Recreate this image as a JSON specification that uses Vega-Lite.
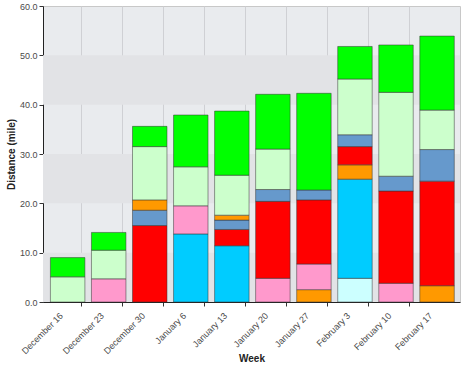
{
  "$schema": "https://vega.github.io/schema/vega-lite/v6.json",
  "width": 417,
  "height": 296,
  "autosize": {"type": "none"},
  "padding": {"left": 43, "top": 6, "right": 8, "bottom": 71},
  "background": "white",
  "config": {
    "view": {"stroke": "#c8c8c8", "fill": "#e9ebee"},
    "font": "Liberation Sans",
    "axis": {
      "labelFont": "Liberation Sans",
      "labelFontSize": 9,
      "labelColor": "#4a4a4a",
      "titleFont": "Liberation Sans",
      "titleFontSize": 10,
      "titleFontWeight": "bold",
      "titleColor": "#222222",
      "domainColor": "#222222",
      "domainWidth": 1,
      "tickColor": "#333333",
      "tickSize": 4
    }
  },
  "datasets": {
    "bands": [
      {"low": 0, "high": 10},
      {"low": 20, "high": 30},
      {"low": 40, "high": 50}
    ],
    "runs": [
      {"week": "December 16", "series": "I", "miles": 5.1},
      {"week": "December 16", "series": "J", "miles": 3.9},
      {"week": "December 23", "series": "D", "miles": 4.7},
      {"week": "December 23", "series": "I", "miles": 5.8},
      {"week": "December 23", "series": "J", "miles": 3.6},
      {"week": "December 30", "series": "F", "miles": 15.5},
      {"week": "December 30", "series": "G", "miles": 3.1},
      {"week": "December 30", "series": "H", "miles": 2.1},
      {"week": "December 30", "series": "I", "miles": 10.8},
      {"week": "December 30", "series": "J", "miles": 4.1},
      {"week": "January 6", "series": "C", "miles": 13.8},
      {"week": "January 6", "series": "D", "miles": 5.7},
      {"week": "January 6", "series": "I", "miles": 7.9},
      {"week": "January 6", "series": "J", "miles": 10.5},
      {"week": "January 13", "series": "C", "miles": 11.4},
      {"week": "January 13", "series": "F", "miles": 3.3},
      {"week": "January 13", "series": "G", "miles": 1.9},
      {"week": "January 13", "series": "H", "miles": 1.0},
      {"week": "January 13", "series": "I", "miles": 8.1},
      {"week": "January 13", "series": "J", "miles": 13.0},
      {"week": "January 20", "series": "D", "miles": 4.8},
      {"week": "January 20", "series": "F", "miles": 15.6},
      {"week": "January 20", "series": "G", "miles": 2.4},
      {"week": "January 20", "series": "I", "miles": 8.2},
      {"week": "January 20", "series": "J", "miles": 11.1},
      {"week": "January 27", "series": "B", "miles": 2.5},
      {"week": "January 27", "series": "D", "miles": 5.2},
      {"week": "January 27", "series": "F", "miles": 13.0},
      {"week": "January 27", "series": "G", "miles": 2.0},
      {"week": "January 27", "series": "J", "miles": 19.6},
      {"week": "February 3", "series": "A", "miles": 4.8},
      {"week": "February 3", "series": "C", "miles": 20.1},
      {"week": "February 3", "series": "E", "miles": 2.9},
      {"week": "February 3", "series": "F", "miles": 3.7},
      {"week": "February 3", "series": "G", "miles": 2.4},
      {"week": "February 3", "series": "I", "miles": 11.3},
      {"week": "February 3", "series": "J", "miles": 6.6},
      {"week": "February 10", "series": "D", "miles": 3.8},
      {"week": "February 10", "series": "F", "miles": 18.7},
      {"week": "February 10", "series": "G", "miles": 3.0},
      {"week": "February 10", "series": "I", "miles": 17.0},
      {"week": "February 10", "series": "J", "miles": 9.6},
      {"week": "February 17", "series": "B", "miles": 3.3},
      {"week": "February 17", "series": "F", "miles": 21.2},
      {"week": "February 17", "series": "G", "miles": 6.4},
      {"week": "February 17", "series": "I", "miles": 8.0},
      {"week": "February 17", "series": "J", "miles": 15.0}
    ]
  },
  "layer": [
    {
      "data": {"name": "bands"},
      "mark": {"type": "rect", "fill": "#e2e3e6"},
      "encoding": {
        "x": {"value": 0},
        "x2": {"value": "width"},
        "y": {"field": "low", "type": "quantitative", "title": "Distance (mile)", "scale": {"domain": [0, 60], "nice": false}},
        "y2": {"field": "high"}
      }
    },
    {
      "data": {"name": "runs"},
      "mark": {"type": "bar", "stroke": "#333333", "strokeOpacity": 0.5, "strokeWidth": 1, "width": {"band": 0.84}},
      "encoding": {
        "x": {
          "field": "week",
          "type": "ordinal",
          "title": "Week",
          "sort": ["December 16", "December 23", "December 30", "January 6", "January 13", "January 20", "January 27", "February 3", "February 10", "February 17"],
          "scale": {"paddingInner": 0, "paddingOuter": 0.08, "align": 0.63},
          "axis": {
            "labelAngle": -45,
            "bandPosition": 0.84,
            "labelOffset": -9,
            "grid": true,
            "gridColor": "#cfd0d4",
            "gridOpacity": {"condition": {"test": "datum.value === 'February 17'", "value": 0}, "value": 1},
            "tickOpacity": {"condition": {"test": "datum.value === 'February 17'", "value": 0}, "value": 1},
            "labelPadding": 5,
            "titlePadding": -2
          }
        },
        "y": {
          "aggregate": "sum",
          "field": "miles",
          "type": "quantitative",
          "stack": "zero",
          "title": "Distance (mile)",
          "scale": {"domain": [0, 60], "nice": false},
          "axis": {"values": [0, 10, 20, 30, 40, 50, 60], "format": ".1f", "grid": false, "labelPadding": 2, "titlePadding": 3}
        },
        "color": {
          "field": "series",
          "type": "nominal",
          "legend": null,
          "scale": {
            "domain": ["A", "B", "C", "D", "E", "F", "G", "H", "I", "J"],
            "range": ["#ccffff", "#ff9900", "#00ccff", "#ff99cc", "#ff9900", "#ff0000", "#6699cc", "#ff9900", "#ccffcc", "#00ff00"]
          }
        },
        "order": {"field": "series", "sort": "ascending"}
      }
    }
  ]
}
